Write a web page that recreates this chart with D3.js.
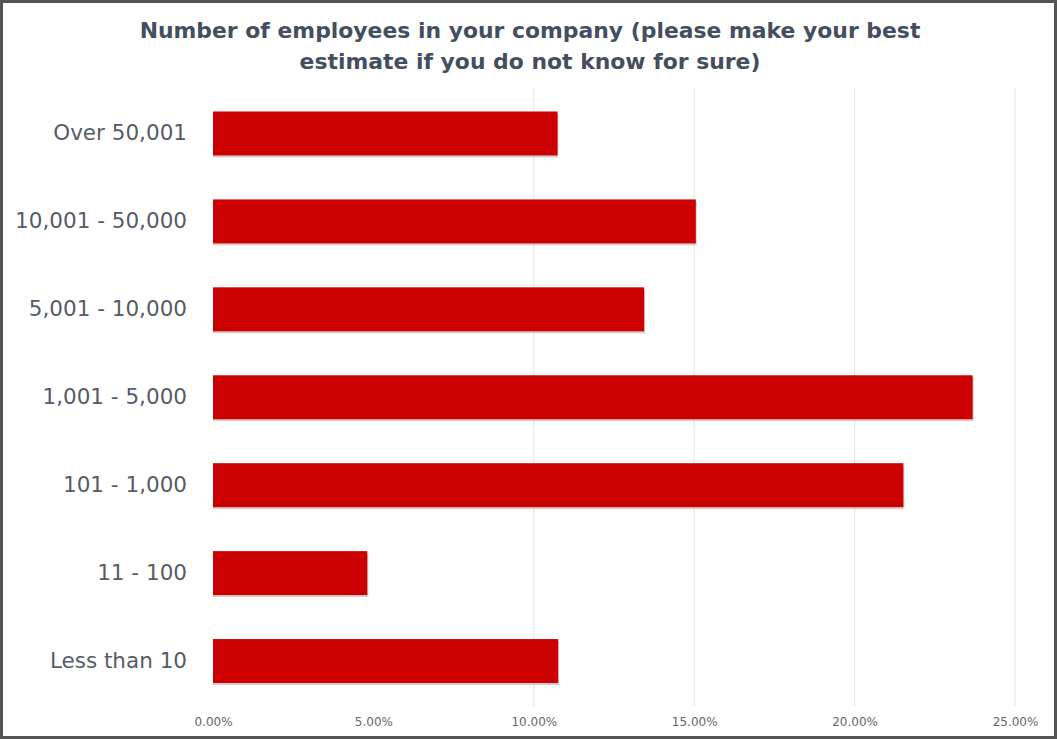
<!DOCTYPE html>
<html>
<head>
<meta charset="utf-8">
<script src="https://cdn.jsdelivr.net/npm/d3@7"></script>
<style>
  html, body { margin: 0; padding: 0; background: #fff; }
  svg { display: block; }
</style>
</head>
<body>
<svg id="chart" width="1057" height="739"></svg>
<script>
// Company size buckets, top to bottom
const categories = [
  "Over 50,001",
  "10,001 - 50,000",
  "5,001 - 10,000",
  "1,001 - 5,000",
  "101 - 1,000",
  "11 - 100",
  "Less than 10"
];
// Share of respondents (%)
const shares = [10.74, 15.05, 13.44, 23.68, 21.52, 4.81, 10.76];
// X axis ticks (%)
const tickValues = [0, 5, 10, 15, 20, 25];
// Vertical gridlines (%)
const gridValues = [10, 15, 20, 25];
const titleLines = [
  "Number of employees in your company (please make your best",
  "estimate if you do not know for sure)"
];

const W = 1057, H = 739;
const svg = d3.select("#chart");

// frame
svg.append("rect")
  .attr("x", 1.5).attr("y", 1.5)
  .attr("width", W - 3).attr("height", H - 3)
  .attr("fill", "#fff")
  .attr("stroke", "#555").attr("stroke-width", 3);

const x = d3.scaleLinear().domain([0, 25]).range([213, 1015]);
const y = d3.scaleBand().domain(categories).range([89.5, 705]).paddingInner(0.5).paddingOuter(0.25);

// gridlines
svg.append("g")
  .selectAll("line")
  .data(gridValues)
  .join("line")
  .attr("x1", d => x(d)).attr("x2", d => x(d))
  .attr("y1", 88).attr("y2", 706)
  .attr("stroke", "#e8e8e8").attr("stroke-width", 1.2);

// title
svg.append("g")
  .selectAll("text")
  .data(titleLines)
  .join("text")
  .attr("x", 530)
  .attr("y", (d, i) => 38 + i * 31)
  .attr("text-anchor", "middle")
  .attr("font-family", "DejaVu Sans, Verdana, sans-serif")
  .attr("font-weight", "bold")
  .attr("font-size", 21.9)
  .attr("fill", "#454e5f")
  .text(d => d);

// bars with a soft bottom shadow
const bars = svg.append("g");
bars.selectAll("rect.shadow")
  .data(shares)
  .join("rect")
  .attr("class", "shadow")
  .attr("x", x(0))
  .attr("y", (d, i) => y(categories[i]) + 2)
  .attr("width", d => x(d) - x(0) + 1)
  .attr("height", y.bandwidth())
  .attr("fill", "#b7b3a8")
  .attr("opacity", 0.6);
bars.selectAll("rect.bar")
  .data(shares)
  .join("rect")
  .attr("class", "bar")
  .attr("x", x(0))
  .attr("y", (d, i) => y(categories[i]))
  .attr("width", d => x(d) - x(0))
  .attr("height", y.bandwidth())
  .attr("fill", "#cc0000");

// category axis
const yAxis = svg.append("g")
  .attr("transform", `translate(${x(0) - 26},0)`)
  .call(d3.axisLeft(y).tickSize(0).tickPadding(0));
yAxis.select(".domain").remove();
yAxis.selectAll("text")
  .attr("font-family", "DejaVu Sans, Verdana, sans-serif")
  .attr("font-size", 21.5)
  .attr("fill", "#555c66");

// value axis
const xAxis = svg.append("g")
  .attr("transform", "translate(0,717)")
  .call(d3.axisBottom(x).tickValues(tickValues).tickSize(0).tickPadding(0)
    .tickFormat(d => d3.format(".2f")(d) + "%"));
xAxis.select(".domain").remove();
xAxis.selectAll("text")
  .attr("font-family", "DejaVu Sans, Verdana, sans-serif")
  .attr("font-size", 12)
  .attr("fill", "#666");
</script>
</body>
</html>
